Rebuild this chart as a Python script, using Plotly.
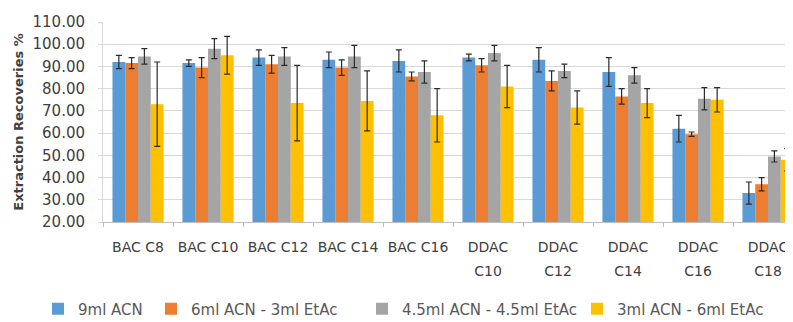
import plotly.graph_objects as go

categories = ["BAC C8", "BAC C10", "BAC C12", "BAC C14", "BAC C16",
              "DDAC C10", "DDAC C12", "DDAC C14", "DDAC C16", "DDAC C18"]
series_names = ["9ml ACN", "6ml ACN - 3ml EtAc", "4.5ml ACN - 4.5ml EtAc", "3ml ACN - 6ml EtAc"]
acn9 = [92.0, 91.5, 94.0, 93.0, 92.5, 94.0, 93.0, 87.5, 62.0, 33.0]
acn9_err = [3.0, 1.5, 3.5, 3.5, 5.0, 1.5, 5.5, 6.5, 6.0, 5.0]
acn6 = [91.5, 89.5, 91.0, 89.5, 85.5, 90.5, 83.5, 76.5, 59.5, 37.0]
acn6_err = [2.5, 4.5, 4.0, 3.5, 2.0, 3.0, 4.5, 3.5, 1.0, 3.0]
acn45 = [94.5, 98.0, 94.5, 94.5, 87.5, 96.0, 88.0, 86.0, 75.5, 49.5]
acn45_err = [3.5, 4.5, 4.0, 5.0, 5.0, 3.5, 3.0, 3.5, 5.0, 2.5]
acn3 = [73.0, 95.0, 73.5, 74.5, 68.0, 81.0, 71.5, 73.5, 75.0, 48.0]
acn3_err = [19.0, 8.5, 17.0, 13.5, 12.0, 9.5, 7.5, 6.5, 5.5, 5.0]
y_ticks = [20, 30, 40, 50, 60, 70, 80, 90, 100, 110]

colors = ["#5B9BD5", "#ED7D31", "#A5A5A5", "#FFC000"]
values = [acn9, acn6, acn45, acn3]
errors = [acn9_err, acn6_err, acn45_err, acn3_err]
legend_ids = ["legend", "legend2", "legend3", "legend4"]

# The page body has an 8px default margin, so the figure starts at (8, 8)
# of the 793x322 window.
OFF = 8
W, H = 793 - OFF, 322 - OFF
ml, mr, mt, mb = 103 - OFF, 0, 22 - OFF, 100
pw = W - ml - mr
cat_w = 70.0
x_end = -0.5 + pw / cat_w

legend_item_px = [38, 151, 362, 577]  # window px of each legend item's left edge

# Excel wraps DDAC labels into two lines
line1 = [c if c.startswith("BAC") else c.split(" ")[0] for c in categories]
line2 = ["" if c.startswith("BAC") else c.split(" ")[1] for c in categories]

fig = go.Figure()
for name, vals, errs, col, lid in zip(series_names, values, errors, colors, legend_ids):
    fig.add_trace(go.Bar(
        x=categories, y=vals, name=name, marker_color=col, marker_line_width=0,
        error_y=dict(type="data", array=errs, visible=True, color="#2b2b2b",
                     thickness=1.2, width=3),
        legend=lid,
    ))
# empty helper trace so the second (label-only) x axis gets drawn
fig.add_trace(go.Scatter(x=[], y=[], xaxis="x2", yaxis="y", showlegend=False,
                         hoverinfo="skip"))

legend_font = dict(family="DejaVu Sans", size=15, color="#595959")
leg_y = -0.435
layout_legends = {}
for lid, xp in zip(legend_ids, legend_item_px):
    layout_legends[lid] = dict(
        x=(xp - OFF - ml) / pw, y=leg_y, xanchor="left", yanchor="middle",
        orientation="h", font=legend_font, bgcolor="rgba(0,0,0,0)",
        borderwidth=0, itemclick=False,
    )

tick_font = dict(family="DejaVu Sans", size=14, color="#404040")

fig.update_layout(
    width=W, height=H,
    margin=dict(l=ml, r=mr, t=mt, b=mb, autoexpand=False),
    plot_bgcolor="white", paper_bgcolor="white",
    barmode="group", bargap=0.27, bargroupgap=0,
    showlegend=True,
    **layout_legends,
    xaxis=dict(
        type="category", range=[-0.5, x_end], automargin=False,
        tickmode="array", tickvals=categories, ticktext=line1,
        tickfont=tick_font, ticklabeloverflow="allow",
        showgrid=False, showline=True, linecolor="#BFBFBF", linewidth=1,
        ticks="outside", tickson="boundaries", ticklen=4, tickcolor="#BFBFBF",
        ticklabelstandoff=12, zeroline=False,
    ),
    xaxis2=dict(
        overlaying="x", side="bottom", anchor="y", type="linear", automargin=False,
        range=[-0.5, x_end], tickmode="array",
        tickvals=list(range(len(categories))), ticktext=line2,
        tickfont=tick_font, ticklabeloverflow="allow",
        showgrid=False, showline=False, ticks="", zeroline=False,
        ticklabelstandoff=39,
    ),
    yaxis=dict(
        range=[20, 110], tickmode="array", tickvals=y_ticks, tickformat=".2f",
        automargin=False,
        tickfont=dict(family="DejaVu Sans", size=15, color="#404040"),
        showgrid=True, gridcolor="#D9D9D9", gridwidth=1,
        showline=True, linecolor="#D9D9D9", ticks="outside", ticklen=4,
        tickcolor="#D9D9D9", ticklabelstandoff=10, zeroline=False,
        title=dict(text="Extraction Recoveries %", standoff=5,
                   font=dict(family="DejaVu Sans", size=13, color="#404040", weight="bold")),
    ),
)

fig.write_html("out.html")
